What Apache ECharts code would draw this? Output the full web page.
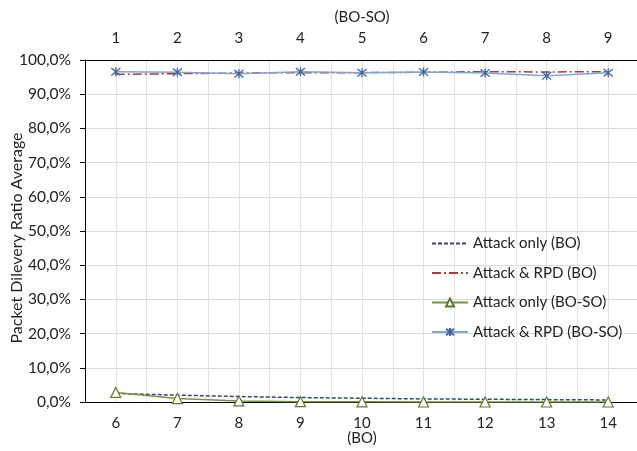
<!DOCTYPE html>
<html><head><meta charset="utf-8">
<script src="https://cdn.jsdelivr.net/npm/echarts@6/dist/echarts.min.js"></script>
<style>html,body{margin:0;padding:0;background:#fff}#c{width:637px;height:451px}</style>
</head><body><div id="c"></div>
<script>
var boCategories = ['6','7','8','9','10','11','12','13','14'];
var bosoCategories = ['1','2','3','4','5','6','7','8','9'];
var attackOnlyBO = [2.5, 2.0, 1.6, 1.3, 1.1, 0.9, 0.8, 0.7, 0.6];
var attackRpdBO = [95.8, 96.0, 96.2, 96.3, 96.3, 96.4, 96.6, 96.5, 96.6];
var attackOnlyBOSO = [2.8, 1.0, 0.3, 0.1, 0.05, 0.0, 0.0, 0.0, 0.0];
var attackRpdBOSO = [96.6, 96.4, 96.0, 96.6, 96.3, 96.5, 96.2, 95.4, 96.3];
var yTicks = [0,10,20,30,40,50,60,70,80,90,100];

var FONT = 'Lato';
var chart = echarts.init(document.getElementById('c'));
var star = 'path://M0,0L10,10M10,0L0,10M5,-1L5,11';
chart.setOption({
  animation: false,
  textStyle: {fontFamily: FONT},
  grid: {left: 85, right: -2, top: 60, bottom: 49, outerBoundsMode: 'none', containLabel: false},
  legend: {
    orient: 'vertical', left: 426, top: 231, itemGap: 14.5, itemWidth: 36, itemHeight: 10,
    textStyle: {fontFamily: FONT, fontSize: 15, color: '#222'},
    data: [
      {name: 'Attack only (BO)', itemStyle: {opacity: 0}},
      {name: 'Attack & RPD (BO)', itemStyle: {opacity: 0}},
      {name: 'Attack only (BO-SO)'},
      {name: 'Attack & RPD (BO-SO)'}
    ]
  },
  xAxis: [
    {type: 'category', data: boCategories, position: 'bottom', boundaryGap: true,
     name: '(BO)', nameLocation: 'middle', nameGap: 29, nameMoveOverlap: false, nameTextStyle: {fontSize: 15, color: '#222', fontFamily: FONT},
     axisLine: {lineStyle: {color: '#000'}}, axisTick: {alignWithLabel: true, length: 5, lineStyle: {color: '#000'}},
     axisLabel: {fontSize: 15, color: '#222', margin: 14}, splitLine: {show: false}},
    {type: 'category', data: bosoCategories, position: 'top', boundaryGap: true,
     name: '(BO-SO)', nameLocation: 'middle', nameGap: 35, nameMoveOverlap: false, nameTextStyle: {fontSize: 15, color: '#222', fontFamily: FONT},
     axisLine: {lineStyle: {color: '#000'}}, axisTick: {inside: true, length: 5, lineStyle: {color: '#000'}},
     axisLabel: {fontSize: 15, color: '#222', margin: 14}, splitLine: {show: false}},
    {type: 'value', min: 0, max: 18, interval: 1, position: 'bottom',
     axisLine: {show: false}, axisTick: {show: false}, axisLabel: {show: false},
     splitLine: {show: true, lineStyle: {color: '#e3e3e3'}}}
  ],
  yAxis: {
    type: 'value', min: 0, max: 100, interval: 10,
    name: 'Packet Dilevery Ratio Average', nameLocation: 'middle', nameGap: 60, nameMoveOverlap: false,
    nameTextStyle: {fontSize: 16, color: '#222', fontFamily: FONT, padding: [0, 14, 0, 0]},
    axisLine: {show: true, lineStyle: {color: '#000'}},
    axisTick: {show: true, length: 5, lineStyle: {color: '#000'}},
    axisLabel: {fontSize: 15.5, color: '#222', margin: 14,
      formatter: function (v) { return v.toFixed(1).replace('.', ',') + '%'; }},
    splitLine: {show: true, lineStyle: {color: '#dadada'}}
  },
  series: [
    {name: 'Attack only (BO)', type: 'line', xAxisIndex: 0, data: attackOnlyBO,
     symbol: 'none', lineStyle: {color: '#2e4a7d', width: 1.5, type: [4, 2]}, itemStyle: {color: '#2e4a7d'}},
    {name: 'Attack & RPD (BO)', type: 'line', xAxisIndex: 0, data: attackRpdBO,
     symbol: 'none', lineStyle: {color: '#b23b36', width: 1.5, type: [9, 3, 2, 3]}, itemStyle: {color: '#b23b36'}},
    {name: 'Attack only (BO-SO)', type: 'line', xAxisIndex: 1, data: attackOnlyBOSO,
     symbol: 'triangle', symbolSize: 10,
     lineStyle: {color: '#77933c', width: 1.5}, itemStyle: {color: '#fff', borderColor: '#5d7a2a', borderWidth: 1.2}},
    {name: 'Attack & RPD (BO-SO)', type: 'line', xAxisIndex: 1, data: attackRpdBOSO,
     symbol: star, symbolSize: 9,
     lineStyle: {color: '#7ea6d8', width: 1.5}, itemStyle: {color: 'rgba(0,0,0,0)', borderColor: '#3e64a0', borderWidth: 1.3}}
  ]
});
</script></body></html>
